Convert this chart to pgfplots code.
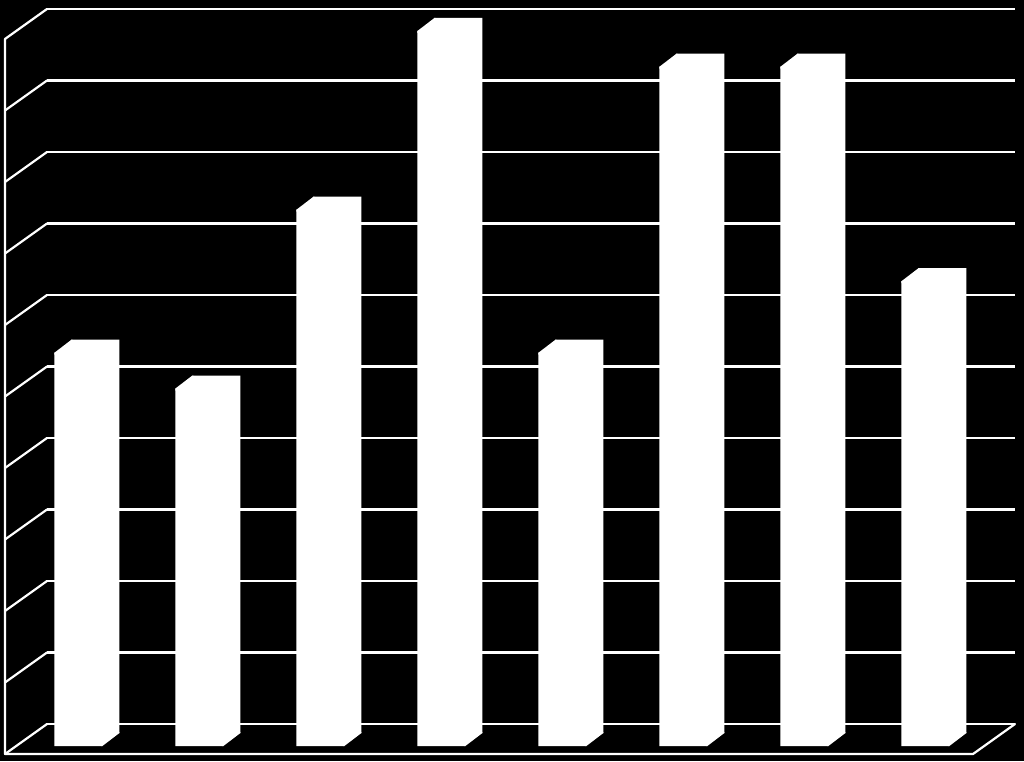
\documentclass[border=0pt]{standalone}
\usepackage{pgfplots}
\usepackage{pgfplotstable}
\pgfplotsset{compat=1.18}

% bar heights, x = category
\pgfplotstableread{
x v
1 5.5
2 5
3 7.5
4 10
5 5.5
6 9.5
7 9.5
8 6.5
}\bars

% little wedges that close the top and foot of each 3D bar
\pgfdeclareplotmark{bartop}{%
  \pgfpathmoveto{\pgfqpoint{-41pt}{-22pt}}%
  \pgfpathlineto{\pgfqpoint{-24pt}{-9pt}}%
  \pgfpathlineto{\pgfqpoint{-23pt}{-9pt}}%
  \pgfpathlineto{\pgfqpoint{-23pt}{-24pt}}%
  \pgfpathlineto{\pgfqpoint{-41pt}{-24pt}}%
  \pgfpathclose\pgfusepathqfill}
\pgfdeclareplotmark{barfoot}{%
  \pgfpathmoveto{\pgfqpoint{6pt}{-22pt}}%
  \pgfpathlineto{\pgfqpoint{7pt}{-22pt}}%
  \pgfpathlineto{\pgfqpoint{24pt}{-9pt}}%
  \pgfpathlineto{\pgfqpoint{24pt}{-8pt}}%
  \pgfpathlineto{\pgfqpoint{6pt}{-8pt}}%
  \pgfpathclose\pgfusepathqfill}

\tikzset{wall/.style={white, line width=2.2pt, line cap=round, line join=round}}

\begin{document}
\begin{tikzpicture}
\useasboundingbox (0,0) rectangle (1024pt,761pt);
\fill[black] (0,0) rectangle (1024pt,761pt);
\begin{axis}[
    at={(47pt,37pt)}, anchor=south west,
    scale only axis,
    width=968pt, height=715pt,
    xmin=0.6, xmax=8.6,
    ymin=0, ymax=10,
    clip=false,
    axis line style={draw=none},
    xtick=\empty,
    ytick={0,...,10}, yticklabels={},
    major tick length=0pt,
    ymajorgrids=true,
    grid style={white, line width=2.2pt},
]
% side wall and floor
\pgfplotsinvokeforeach{0,...,10}{
  \draw[wall] (axis cs:0.6,#1) -- ++(-42pt,-30pt);
}
\draw[wall] ([shift={(-42pt,-30pt)}]axis cs:0.6,10)
    -- ([shift={(-42pt,-30pt)}]axis cs:0.6,0)
    -- ([shift={(-42pt,-30pt)}]axis cs:8.6,0)
    -- (axis cs:8.6,0);

% back faces
\addplot[ybar, bar width=48pt, bar shift=0pt, fill=white, draw=none,
    yshift=-9pt] table[x=x, y=v] {\bars};
% front faces
\addplot[ybar, bar width=48pt, bar shift=0pt, fill=white, draw=none,
    xshift=-17pt, yshift=-22pt] table[x=x, y=v] {\bars};
% wedges
\addplot[only marks, mark=bartop, mark options={fill=white, draw=none}]
    table[x=x, y=v] {\bars};
\addplot[only marks, mark=barfoot, mark options={fill=white, draw=none}]
    table[x=x, y expr=0] {\bars};
\end{axis}
\end{tikzpicture}
\end{document}
